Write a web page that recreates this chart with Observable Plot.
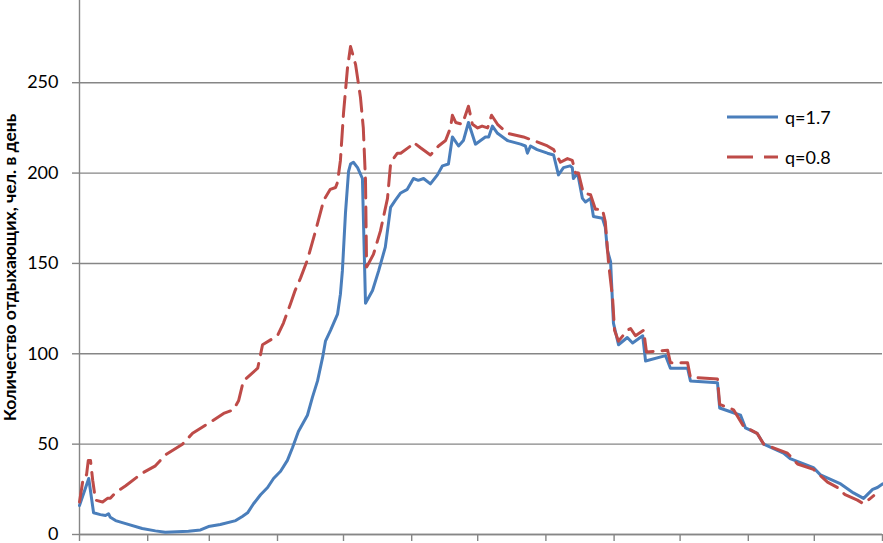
<!DOCTYPE html>
<html><head><meta charset="utf-8">
<script src="https://cdn.jsdelivr.net/npm/d3@7"></script>
<script src="https://cdn.jsdelivr.net/npm/@observablehq/plot@0.6"></script>
<style>
body{margin:0;background:#fff;}
#wrap{position:relative;width:883px;height:543px;overflow:hidden;background:#fff;}
.leg{position:absolute;left:727px;height:20px;display:flex;align-items:center;font-family:Lato, sans-serif;font-size:18px;color:#000;}
.leg svg{margin-right:7px;}
</style></head><body><div id="wrap"></div>
<script>
// q=1.7 (blue, solid): day of year -> visitors per day
const blueDays = [0,4.2,6.4,9.5,11.8,13.2,14,16.4,21,28.5,34.5,39,49.5,55,58.6,64,71,74,76.4,79.1,82.3,85.5,88.2,91.4,94.5,96.8,99.5,103.6,105.9,108.2,110.5,111.8,114.1,117.3,118.6,119.5,120.9,122.3,123.2,124.5,126.4,128.6,130,133.2,136,139,141.4,143.6,146,149,151.8,154,156.4,159.5,162.7,165,167.7,169.5,172.3,174.5,176.8,180,182.3,184.5,186,187.7,190,194.5,200.5,202.7,203.6,205,208,212.7,215.5,217.7,220,223,224,224.5,226.4,228.6,230,232.3,233.6,237.7,239,240,241.4,242.7,245,249,251.4,256,257.3,266.4,268.6,276.4,277.7,290,291,300.5,302.7,308,311,320,323,333.6,336.8,346,351.8,356.4,360.5,362.7,365];
const blueValues = [16,31,12,11,10.5,11.5,9.5,7.7,6,3.3,2,1.3,1.8,2.5,4.4,5.5,7.7,10,12,17,22,26,31,35,41,48,57,66,76,85,98,107,113,122,133,146,178,201,205,206,203,197,128,135,146,159,181,185,189,191,197,196,197,194,199,204,205,220,215,218,228,216,218,220,220,226,222,218,216,215,211,215,213,211,210,199,203,204,203,197,200,186,184,186,176,175,170,157,151,117,105,109,106,110,96,99,92,92,85,84,70,66,59,56,50,45,42,37,33,28,23,20,25,26,28];
// q=0.8 (red, dashed)
const redDays = [0,1.8,3.2,4,5,6,7.3,10.5,12.7,14,15.5,17.3,21,26.4,28.6,34.5,39,46.8,51.4,60.5,65.5,70,72.3,74.5,81,83.2,90,92.7,96,98,100.5,103.6,107.3,111,114,116.4,117.3,118.6,120,121.8,123.2,125.5,127.7,129,130,130.5,131.4,133.6,136.8,140,141.4,142.7,144.5,146,150.5,151.8,155,159.5,163.2,166.4,168.6,169.5,171,174,176.8,178.6,181,183,185.5,187.3,190,194.5,201.8,206.4,212.7,215.5,218.6,221.8,224,225.5,226.8,229,232.3,234.5,237.7,239,240.5,242.3,243.2,245,249,250.5,252.7,256.4,257.7,267.3,268.6,276.4,277.7,290,291,297.3,301.8,308,311,321.8,326.4,333.6,335.5,340,344.5,348,353.6,356.4,359.5,361];
const redValues = [18,32,33,41,41,30,19,18,20,20,22,24,27,32,34,38,44,50,56,63,67,69,74,85,92,105,110,117,128,135,142,152,168,185,191,192,195,207,233,258,270,260,242,225,196,148,150,155,168,186,205,208,211,211,215,217,214,210,215,218,225,232,228,227,237,227,225,226,225,232,227,222,220,218,215,213,206,208,207,200,200,189,188,180,180,173,150,131,113,107,113,114,110,113,101,102,95,95,87,86,72,69,60,56,50,45,39,36,34,29,26,22,19,17,20,21.5];

const seriesNames = ["q=1.7", "q=0.8"];
const seriesColors = ["#4A7EBB", "#BE4B48"];
const yTicks = [0, 50, 100, 150, 200, 250];
const monthTicks = [0, 31, 59, 90, 120, 151, 181, 212, 243, 273, 304, 334, 365];
const yLabel = "Количество отдыхающих, чел. в день";

const blueRows = blueDays.map((d, i) => ({day: d, value: blueValues[i], series: seriesNames[0]}));
const redRows = redDays.map((d, i) => ({day: d, value: redValues[i], series: seriesNames[1]}));

const grey = "#868686";
const chart = Plot.plot({
  width: 883, height: 543,
  marginLeft: 79, marginRight: 1, marginTop: 0, marginBottom: 9,
  style: {fontFamily: "Lato, sans-serif", fontSize: "18px", color: "#000", background: "#fff", overflow: "visible"},
  x: {domain: [0, 365]},
  y: {domain: [0, 295.5]},
  marks: [
    Plot.gridY(yTicks, {stroke: grey, strokeOpacity: 1, strokeWidth: 1.4}),
    Plot.axisY(yTicks, {tickSize: 7, tickPadding: 14, stroke: grey, strokeWidth: 1.4, label: yLabel, labelAnchor: "center", labelArrow: "none"}),
    Plot.axisX(monthTicks, {tickSize: 7, stroke: grey, strokeWidth: 1.4, tickFormat: () => "", label: null}),
    Plot.ruleX([0], {stroke: grey, strokeWidth: 1.4}),
    Plot.ruleY([0], {stroke: grey, strokeWidth: 1.4}),
    Plot.line(blueRows, {x: "day", y: "value", stroke: seriesColors[0], strokeWidth: 3, strokeLinejoin: "round"}),
    Plot.line(redRows, {x: "day", y: "value", stroke: seriesColors[1], strokeWidth: 3, strokeDasharray: "20,9", strokeLinejoin: "round"})
  ]
});
const wrap = document.getElementById("wrap");
wrap.appendChild(chart);
d3.select(chart).selectAll('g[aria-label="y-axis label"] text')
  .style("font-weight", "bold").style("font-size", "17.5px");

const legendY = [117, 157];
seriesNames.forEach((name, i) => {
  const div = document.createElement("div");
  div.className = "leg";
  div.style.top = (legendY[i] - 10) + "px";
  div.innerHTML = `<svg width="51" height="6"><line x1="0" x2="51" y1="3" y2="3" stroke="${seriesColors[i]}" stroke-width="3" ${i === 1 ? 'stroke-dasharray="26,11"' : ''}/></svg><span>${name}</span>`;
  wrap.appendChild(div);
});
</script></body></html>
